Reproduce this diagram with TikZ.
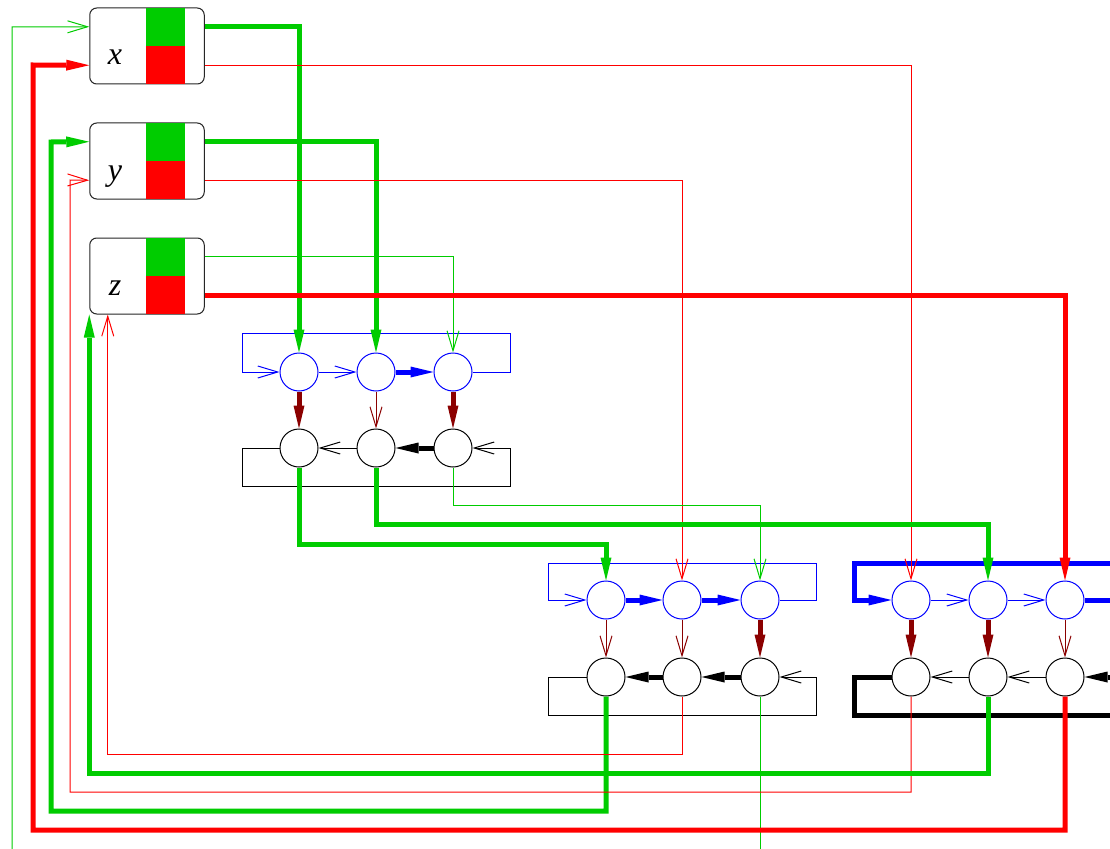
\documentclass[tikz,border=0pt]{standalone}
\usepackage{fontspec}
\setmainfont{Liberation Serif}
\usetikzlibrary{arrows.meta,calc}
\definecolor{G}{RGB}{0,204,0}
\definecolor{R}{RGB}{255,0,0}
\definecolor{B}{RGB}{0,0,255}
\definecolor{DR}{RGB}{139,0,0}
\begin{document}
\begin{tikzpicture}[x=1pt,y=-1pt,
  thn/.style={line width=1pt},
  thk/.style={line width=5pt},
  ta/.style={-{Straight Barb[length=20pt,width=12pt,line width=1pt]}},
  tka/.style={-{Triangle[length=23pt,width=11pt,line width=0pt]}},
  cir/.style={circle,draw,minimum size=38pt,inner sep=0pt,line width=1pt},
  varbox/.style={draw=black!85,rounded corners=7pt,minimum width=114.5pt,minimum height=76pt,inner sep=0pt,line width=1pt},
  lab/.style={font=\fontsize{32}{36}\selectfont\itshape,anchor=base,inner sep=0pt}]
\clip (0,0) rectangle (1110,848);
\fill[white] (0,0) rectangle (1110,848);
% variable boxes
\foreach \n/\y/\l in {bx/46/x, by/161/y, bz/276/z} {
  \node[varbox] (\n) at (147,\y) {};
  \fill[G] (146,\y-38) rectangle (185,\y);
  \fill[R] (146,\y) rectangle (185,\y+38);
  \node[lab] (\n l) at (115,\y+19) {\l};
}
% circles
\foreach \g/\xa/\xb/\xc/\yt/\yb in {a/299/376/453/372/448, b/606/682/760/600/677, c/911/988/1065/600/677} {
  \node[cir,draw=B] (\g t1) at (\xa,\yt) {};
  \node[cir,draw=B] (\g t2) at (\xb,\yt) {};
  \node[cir,draw=B] (\g t3) at (\xc,\yt) {};
  \node[cir] (\g b1) at (\xa,\yb) {};
  \node[cir] (\g b2) at (\xb,\yb) {};
  \node[cir] (\g b3) at (\xc,\yb) {};
}
% group A
\draw[B,thn,ta] (at3.east) -| (510,333) -| (242,372) -- (at1.west);
\draw[B,thn,ta] (at1) -- (at2);
\draw[B,thk,tka] (at2) -- (at3);
\draw[DR,thk,tka] (at1) -- (ab1);
\draw[DR,thn,ta] (at2) -- (ab2);
\draw[DR,thk,tka] (at3) -- (ab3);
\draw[thn,ta] (ab1.west) -| (242,486) -| (510,448) -- (ab3.east);
\draw[thk,tka] (ab3) -- (ab2);
\draw[thn,ta] (ab2) -- (ab1);
% group B
\draw[B,thn,ta] (bt3.east) -| (816,563) -| (548,600) -- (bt1.west);
\draw[B,thk,tka] (bt1) -- (bt2);
\draw[B,thk,tka] (bt2) -- (bt3);
\draw[DR,thn,ta] (bt1) -- (bb1);
\draw[DR,thn,ta] (bt2) -- (bb2);
\draw[DR,thk,tka] (bt3) -- (bb3);
\draw[thn,ta] (bb1.west) -| (548,715) -| (816,677) -- (bb3.east);
\draw[thk,tka] (bb3) -- (bb2);
\draw[thk,tka] (bb2) -- (bb1);
% group C
\draw[B,thk,tka] (ct3.east) -| (1122,563) -| (854,600) -- (ct1.west);
\draw[B,thn,ta] (ct1) -- (ct2);
\draw[B,thn,ta] (ct2) -- (ct3);
\draw[DR,thk,tka] (ct1) -- (cb1);
\draw[DR,thk,tka] (ct2) -- (cb2);
\draw[DR,thn,ta] (ct3) -- (cb3);
\draw[thk,tka] (cb1.west) -| (854,715) -| (1122,677) -- (cb3.east);
\draw[thn,ta] (cb3) -- (cb2);
\draw[thn,ta] (cb2) -- (cb1);
% outputs of boxes
\draw[G,thk,tka] ($(bx.north east)!.25!(bx.south east)$) -| (at1.north);
\draw[R,thn,ta] ($(bx.north east)!.75!(bx.south east)$) -| (ct1.north);
\draw[G,thk,tka] ($(by.north east)!.25!(by.south east)$) -| (at2.north);
\draw[R,thn,ta] ($(by.north east)!.75!(by.south east)$) -| (bt2.north);
\draw[G,thn,ta] ($(bz.north east)!.25!(bz.south east)$) -| (at3.north);
\draw[R,thk,tka] ($(bz.north east)!.75!(bz.south east)$) -| (ct3.north);
% group A to groups B, C
\draw[G,thk,tka] (ab1.south) -- (ab1.south |- 0,544) -| (bt1.north);
\draw[G,thk,tka] (ab2.south) -- (ab2.south |- 0,524) -| (ct2.north);
\draw[G,thn,ta] (ab3.south) -- (ab3.south |- 0,505) -| (bt3.north);
% feedback to boxes
\draw[G,thk,tka] (bb1.south) -- (bb1.south |- 0,811) -| (51,142) -- ($(by.north west)!.25!(by.south west)$);
\draw[R,thn,ta] (bb2.south) -- (bb2.south |- 0,754) -| ([xshift=18.5pt]bz.south west);
\coordinate (bout) at (760,870);
\draw[G,thn] (bb3.south) -- (bout);
\draw[R,thn,ta] (cb1.south) -- (cb1.south |- 0,792) -| (70,180) -- ($(by.north west)!.75!(by.south west)$);
\draw[G,thk,tka] (cb2.south) -- (cb2.south |- 0,773) -| (bz.south west);
\draw[R,thk,tka] (cb3.south) -- (cb3.south |- 0,830) -| (33,65) -- ($(bx.north west)!.75!(bx.south west)$);
\coordinate (gin) at (12,870);
\draw[G,thn,ta] (gin) -- (12,27) -- ($(bx.north west)!.25!(bx.south west)$);
\end{tikzpicture}
\end{document}
